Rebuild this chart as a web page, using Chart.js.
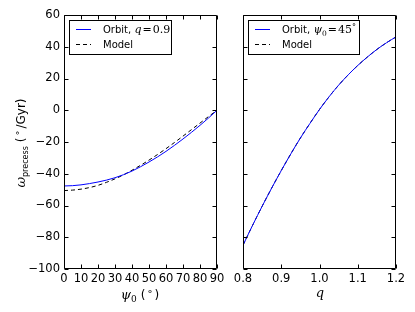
<!DOCTYPE html>
<html>
<head>
<meta charset="utf-8">
<script src="https://cdn.jsdelivr.net/npm/chart.js@4"></script>
<style>
html,body{margin:0;padding:0;background:#fff;}
#wrap{position:relative;width:415px;height:312px;}
canvas{position:absolute;left:0;top:0;}
</style>
</head>
<body>
<div id="wrap">
<canvas id="cL" width="415" height="312"></canvas>
<canvas id="cR" width="415" height="312"></canvas>
</div>
<script>
// ---- data ----
const psiValues = [0,5,10,15,20,25,30,35,40,45,50,55,60,65,70,75,80,85,90];
const orbitPsi = [-47.7,-47.5,-47.0,-46.2,-45.2,-44.0,-42.5,-40.6,-38.3,-35.6,-32.6,-29.4,-25.9,-22.1,-18.1,-13.9,-9.5,-4.9,0];
const modelPsi = [-50.6,-50.3,-49.7,-48.7,-47.3,-45.4,-43.2,-40.7,-37.8,-34.7,-31.4,-27.9,-24.2,-20.3,-16.3,-12.2,-8.1,-4.0,0];
const qValues = [0.8,0.825,0.85,0.875,0.9,0.925,0.95,0.975,1.0,1.025,1.05,1.075,1.1,1.125,1.15,1.175,1.2];
const orbitQ = [-85,-72.5,-60.5,-49,-38,-27.5,-17.5,-8.3,0.5,8.5,15.8,22.3,28.2,33.5,38.3,42.5,46.2];
const modelQ = [-85,-72.5,-60.5,-49,-38,-27.5,-17.5,-8.3,0.5,8.5,15.8,22.3,28.2,33.5,38.3,42.5,46.2];
const yTicks = [-100,-80,-60,-40,-20,0,20,40,60];
const psiTicks = [0,10,20,30,40,50,60,70,80,90];
const qTicks = [0.8,0.9,1.0,1.1,1.2];

const SANS = '"DejaVu Sans", sans-serif';
const SERIF = '"DejaVu Serif", serif';

function drawRuns(ctx, runs, x, y, align) {
  let w = 0;
  runs.forEach(r => { ctx.font = r.f; r.w = ctx.measureText(r.t).width; w += r.w + (r.sp||0); });
  let cx = align === 'center' ? x - w/2 : x;
  ctx.textBaseline = 'alphabetic';
  ctx.textAlign = 'left';
  runs.forEach(r => { ctx.font = r.f; ctx.fillText(r.t, cx, y + (r.dy||0)); cx += r.w + (r.sp||0); });
}

function makeFramePlugin(xTicks, legendCfg, titleFn) {
  return {
    id: 'frameTicks',
    afterDraw(chart) {
      const ctx = chart.ctx, a = chart.chartArea;
      const xs = chart.scales.x, ys = chart.scales.y;
      ctx.save();
      ctx.strokeStyle = '#000';
      ctx.lineWidth = 1;
      const L = Math.round(a.left)+0.5, R = Math.round(a.right)-0.5, T = Math.round(a.top)+0.5, B = Math.round(a.bottom)-0.5;
      ctx.beginPath();
      ctx.rect(L, T, R-L, B-T);
      ctx.stroke();
      ctx.beginPath();
      xTicks.forEach(v => {
        const px = Math.round(xs.getPixelForValue(v)) + 0.5;
        ctx.moveTo(px, B); ctx.lineTo(px, B-4);
        ctx.moveTo(px, T); ctx.lineTo(px, T+4);
      });
      yTicks.forEach(v => {
        const py = Math.round(ys.getPixelForValue(v)) + 0.5;
        ctx.moveTo(L, py); ctx.lineTo(L+4, py);
        ctx.moveTo(R, py); ctx.lineTo(R-4, py);
      });
      ctx.stroke();
      // legend
      const lg = legendCfg;
      ctx.fillStyle = '#fff';
      ctx.fillRect(lg.x+0.5, lg.y+0.5, lg.w, lg.h);
      ctx.strokeStyle = '#000';
      ctx.strokeRect(lg.x+0.5, lg.y+0.5, lg.w, lg.h);
      ctx.beginPath();
      ctx.strokeStyle = '#0000ff';
      ctx.moveTo(lg.x+7, lg.y+9.5); ctx.lineTo(lg.x+22, lg.y+9.5);
      ctx.stroke();
      ctx.beginPath();
      ctx.strokeStyle = '#000';
      ctx.setLineDash([4,3]);
      ctx.moveTo(lg.x+7, lg.y+24.5); ctx.lineTo(lg.x+22, lg.y+24.5);
      ctx.stroke();
      ctx.setLineDash([]);
      ctx.fillStyle = '#000';
      drawRuns(ctx, lg.runs1, lg.x+34, lg.y+13, 'left');
      drawRuns(ctx, [{t:'Model', f:'10px '+SANS}], lg.x+34, lg.y+28, 'left');
      titleFn(ctx, chart);
      ctx.restore();
    }
  };
}

function baseOptions(xMin, xMax, xTickVals, xFmt, yWidth, padRight, showY) {
  return {
    responsive: false,
    animation: false,
    devicePixelRatio: 1,
    layout: { padding: { top: 15, right: padRight, left: 0, bottom: 0 } },
    plugins: { legend: { display: false }, tooltip: { enabled: false } },
    elements: { point: { radius: 0 } },
    scales: {
      x: {
        type: 'linear', min: xMin, max: xMax,
        grid: { display: false, drawTicks: false },
        border: { display: false },
        afterBuildTicks: s => { s.ticks = xTickVals.map(v => ({ value: v })); },
        afterFit: s => { s.height = 43; },
        ticks: { color: '#000', font: { family: SANS, size: 11.5 }, padding: 3, maxRotation: 0, autoSkip: false, callback: v => xFmt(v) }
      },
      y: {
        type: 'linear', min: -100, max: 60,
        grid: { display: false, drawTicks: false },
        border: { display: false },
        afterBuildTicks: s => { s.ticks = yTicks.map(v => ({ value: v })); },
        afterFit: s => { s.width = yWidth; },
        ticks: { display: showY, color: '#000', font: { family: SANS, size: 11.5 }, padding: 4, autoSkip: false,
          callback: v => (v < 0 ? '\u2212' + Math.abs(v) : String(v)) }
      }
    }
  };
}

const optL = baseOptions(0, 90, psiTicks, v => String(v), 64, 198, true);
const optR = baseOptions(0.8, 1.2, qTicks, v => v.toFixed(1), 243, 19, false);

new Chart(document.getElementById('cL'), {
  type: 'line',
  data: { datasets: [
    { label: 'Orbit', data: psiValues.map((x,i)=>({x, y: orbitPsi[i]})), borderColor: '#0000ff', borderWidth: 1, fill: false, cubicInterpolationMode: 'monotone' },
    { label: 'Model', data: psiValues.map((x,i)=>({x, y: modelPsi[i]})), borderColor: '#000', borderWidth: 1, borderDash: [4,3], fill: false, cubicInterpolationMode: 'monotone' }
  ]},
  options: optL,
  plugins: [makeFramePlugin(psiTicks,
    { x: 69, y: 20, w: 102, h: 34, runs1: [
      {t:'Orbit, ', f:'10px '+SANS},
      {t:'q', f:'italic 11px '+SERIF, sp: 1},
      {t:'=', f:'11px '+SERIF, sp: 1},
      {t:'0.9', f:'11px '+SERIF}
    ]},
    (ctx, chart) => {
      ctx.fillStyle = '#000';
      drawRuns(ctx, [
        {t:'\u03c8', f:'italic 13px '+SERIF},
        {t:'0', f:'9px '+SERIF, dy: 3, sp: 4},
        {t:'(', f:'12px '+SANS, sp: 2},
        {t:'\u00b0', f:'10px '+SERIF, dy: -2, sp: 2},
        {t:')', f:'12px '+SANS}
      ], 140, 299, 'center');
      ctx.save();
      ctx.translate(25, 143);
      ctx.rotate(-Math.PI/2);
      drawRuns(ctx, [
        {t:'\u03c9', f:'italic 13px '+SERIF},
        {t:'precess', f:'8px '+SANS, dy: 3, sp: 4},
        {t:'(', f:'12px '+SANS, sp: 2},
        {t:'\u00b0', f:'10px '+SERIF, dy: -2, sp: 2},
        {t:'/Gyr)', f:'12px '+SANS}
      ], 0, 0, 'center');
      ctx.restore();
    })]
});

new Chart(document.getElementById('cR'), {
  type: 'line',
  data: { datasets: [
    { label: 'Orbit', data: qValues.map((x,i)=>({x, y: orbitQ[i]})), borderColor: '#0000ff', borderWidth: 1, fill: false, cubicInterpolationMode: 'monotone' },
    { label: 'Model', data: qValues.map((x,i)=>({x, y: modelQ[i]})), borderColor: '#000', borderWidth: 1, borderDash: [4,3], fill: false, cubicInterpolationMode: 'monotone' }
  ]},
  options: optR,
  plugins: [makeFramePlugin(qTicks,
    { x: 248, y: 20, w: 111, h: 34, runs1: [
      {t:'Orbit, ', f:'10px '+SANS},
      {t:'\u03c8', f:'italic 11px '+SERIF},
      {t:'0', f:'7.5px '+SERIF, dy: 2.5, sp: 1},
      {t:'=', f:'11px '+SERIF, sp: 1},
      {t:'45', f:'11px '+SERIF},
      {t:'\u00b0', f:'8px '+SERIF, dy: -4}
    ]},
    (ctx, chart) => {
      ctx.fillStyle = '#000';
      drawRuns(ctx, [{t:'q', f:'italic 13px '+SERIF}], 320, 297, 'center');
    })]
});
</script>
</body>
</html>
